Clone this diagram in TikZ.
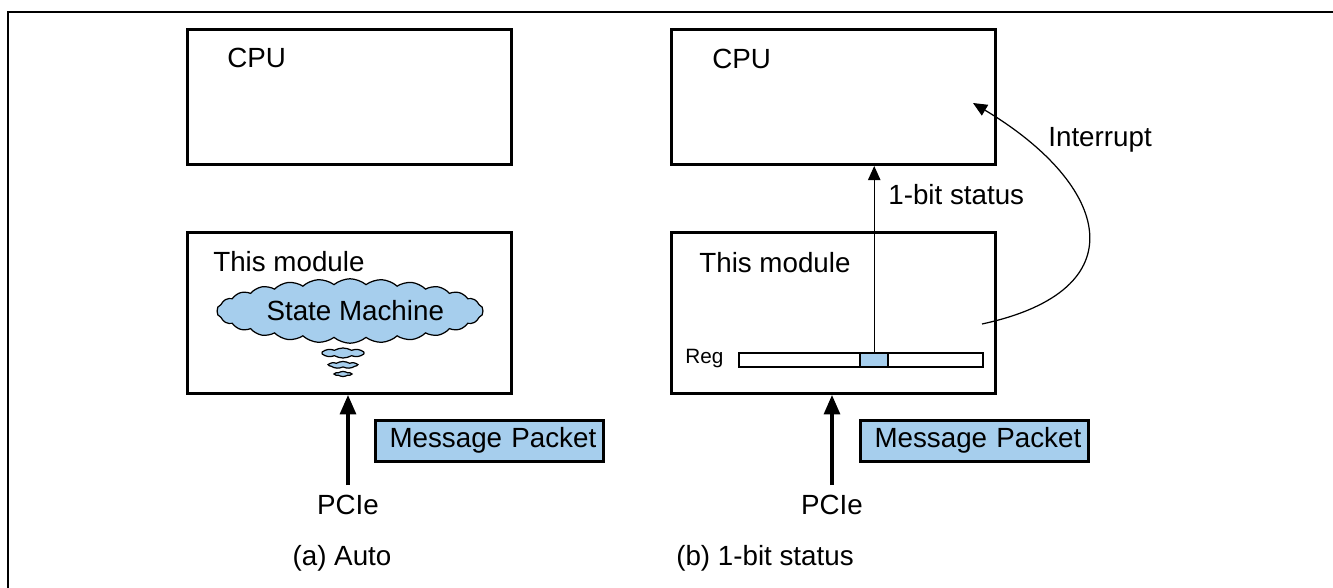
\documentclass[tikz,border=0pt]{standalone}
\usepackage{fontspec}
\setmainfont{Liberation Sans}
\usetikzlibrary{arrows.meta,shapes.symbols}
\definecolor{msgblue}{RGB}{166,206,237}
\begin{document}
\begin{tikzpicture}[x=0.02cm, y=-0.02cm,
    every node/.style={font=\fontsize{15.8}{18}\selectfont},
    lbl/.style={inner sep=0pt, anchor=west},
    cpubox/.style={draw, line width=1.7pt, minimum width=6.48cm, minimum height=2.7cm, anchor=north west},
    modbox/.style={draw, line width=1.7pt, minimum width=6.48cm, minimum height=3.22cm, anchor=north west},
    pkt/.style={draw, line width=1.5pt, fill=msgblue, text width=4.28cm, align=right, minimum height=0.82cm, anchor=north west, inner xsep=0.14cm, inner ysep=0pt},
    puff/.style={cloud, draw, fill=msgblue, line width=0.7pt, inner sep=0pt},
    bus/.style={line width=1.9pt, -{Triangle[width=9pt,length=11pt]}},
    sig/.style={line width=0.7pt, -{Triangle[width=7pt,length=8pt]}}]
    \useasboundingbox (0,0) rectangle (1333,588);
    \draw[line width=1.7pt] (8,588) -- (8,12) -- (1333,12);

    % (a) Auto
    \node[cpubox] (cpuA) at (186,28) {};
    \node[lbl] at (227,58) {CPU};
    \node[modbox] (modA) at (186,231) {};
    \node[lbl] at (213,262) {This module};
    \node[puff, cloud puffs=26, cloud puff arc=80, aspect=5, minimum width=4.9cm, minimum height=1.0cm] (smA) at (350,311) {\hspace{6pt}State Machine};
    \node[puff, cloud puffs=8, cloud puff arc=60, minimum width=0.84cm, minimum height=0.2cm] (sA1) at (343,353) {};
    \node[puff, cloud puffs=7, cloud puff arc=60, minimum width=0.56cm, minimum height=0.14cm] (sA2) at (343,365) {};
    \node[puff, cloud puffs=6, cloud puff arc=60, minimum width=0.32cm, minimum height=0.1cm] (sA3) at (343,374) {};
    \node[pkt] (pktA) at (374,419) {Message Packet};
    \node[inner sep=0pt] (pcieA) at (348,505) {PCIe};
    \draw[bus] (348,485) -- (modA.south -| pcieA);
    \node[inner sep=0pt] (capA) at (342,558) {(a) Auto};

    % (b) 1-bit status
    \node[cpubox] (cpuB) at (670,28) {};
    \node[lbl] at (712,59) {CPU};
    \node[modbox] (modB) at (670,231) {};
    \node[lbl] at (699,263) {This module};
    \node[lbl, font=\fontsize{11.8}{14}\selectfont] (regL) at (685,359) {Reg};
    \node[draw, line width=1.4pt, minimum width=4.88cm, minimum height=0.28cm, anchor=north west, inner sep=0pt] (regB) at (738,352) {};
    \node[draw, line width=1.4pt, fill=msgblue, minimum width=0.56cm, minimum height=0.28cm, anchor=north west, inner sep=0pt] (bitB) at (859,352) {};
    \draw[sig] (bitB.north) -- (bitB.north |- cpuB.south);
    \node[lbl] at (888,195) {1-bit status};
    \coordinate (irqS) at (982,324);
    \coordinate (irqE) at (973,103);
    \draw[sig] (irqS) .. controls (1140,290) and (1110,185) .. (irqE);
    \node[lbl] at (1048,140) {Interrupt};
    \node[pkt] (pktB) at (859,419) {Message Packet};
    \node[inner sep=0pt] (pcieB) at (832,505) {PCIe};
    \draw[bus] (832,485) -- (modB.south -| pcieB);
    \node[inner sep=0pt] (capB) at (765,558) {(b) 1-bit status};
\end{tikzpicture}
\end{document}
